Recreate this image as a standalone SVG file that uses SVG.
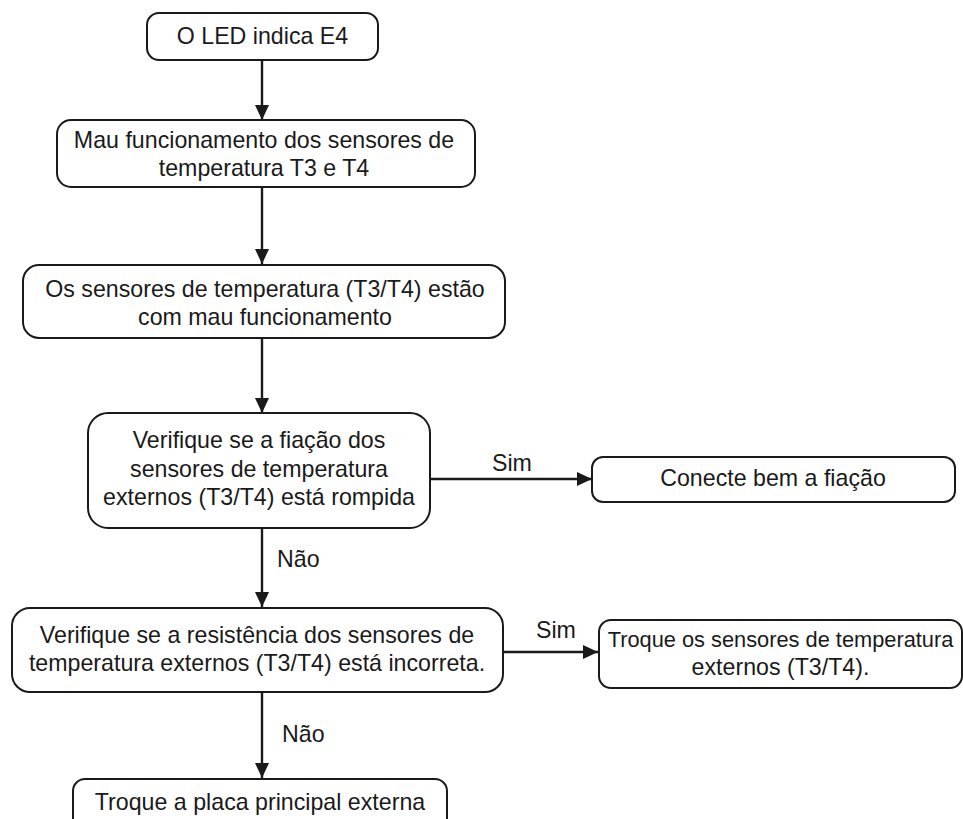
<svg xmlns="http://www.w3.org/2000/svg" width="963" height="819" viewBox="0 0 963 819">
<style>
.box{fill:#fff;stroke:#1a1a1a;stroke-width:2}
.t{font-family:"Liberation Sans",Arial,sans-serif;font-size:23.2px;fill:#1a1a1a;text-anchor:middle}
.s{font-size:21.8px}
.l{font-family:"Liberation Sans",Arial,sans-serif;font-size:23.2px;fill:#1a1a1a}
.c{stroke:#1a1a1a;stroke-width:2.4;fill:none;marker-end:url(#ah)}
</style>
<defs>
<marker id="ah" viewBox="0 0 15 14" refX="15" refY="7" markerWidth="15" markerHeight="14" markerUnits="userSpaceOnUse" orient="auto">
<path d="M0,0 L15,7 L0,14 Z" fill="#1a1a1a"/>
</marker>
</defs>
<rect width="963" height="819" fill="#fff"/>
<g id="connectors">
<line class="c" x1="262" y1="60" x2="262" y2="120"/>
<line class="c" x1="262" y1="187" x2="262" y2="264"/>
<line class="c" x1="262" y1="338" x2="262" y2="413"/>
<line class="c" x1="430" y1="479" x2="592" y2="479"/>
<text class="l" x="492" y="471">Sim</text>
<line class="c" x1="262" y1="528" x2="262" y2="607"/>
<text class="l" x="277" y="567">Não</text>
<line class="c" x1="503" y1="652" x2="598" y2="652"/>
<text class="l" x="536" y="638">Sim</text>
<line class="c" x1="262" y1="692" x2="262" y2="778"/>
<text class="l" x="282" y="742">Não</text>
</g>
<g id="n1">
<rect class="box" x="147" y="13" width="231" height="47" rx="12"/>
<text class="t" x="262.5" y="44">O LED indica E4</text>
</g>
<g id="n2">
<rect class="box" x="57" y="120" width="418" height="67" rx="14"/>
<text class="t" x="264" y="148">Mau funcionamento dos sensores de</text>
<text class="t" x="264" y="176">temperatura T3 e T4</text>
</g>
<g id="n3">
<rect class="box" x="23" y="265" width="482" height="73" rx="16"/>
<text class="t" x="265" y="297">Os sensores de temperatura (T3/T4) estão</text>
<text class="t" x="265" y="325">com mau funcionamento</text>
</g>
<g id="n4">
<rect class="box" x="88" y="413" width="342" height="115" rx="20"/>
<text class="t" x="259" y="448">Verifique se a fiação dos</text>
<text class="t" x="259" y="477">sensores de temperatura</text>
<text class="t" x="259" y="505">externos (T3/T4) está rompida</text>
</g>
<g id="n5">
<rect class="box" x="592" y="457" width="363" height="45" rx="11"/>
<text class="t" x="773" y="486">Conecte bem a fiação</text>
</g>
<g id="n6">
<rect class="box" x="12" y="608" width="491" height="84" rx="18"/>
<text class="t" x="257" y="643">Verifique se a resistência dos sensores de</text>
<text class="t" x="257" y="671">temperatura externos (T3/T4) está incorreta.</text>
</g>
<g id="n7">
<rect class="box" x="599" y="620" width="363" height="68" rx="12"/>
<text class="t s" x="780.5" y="647">Troque os sensores de temperatura</text>
<text class="t" x="780.5" y="675">externos (T3/T4).</text>
</g>
<g id="n8">
<rect class="box" x="73" y="779" width="374" height="60" rx="12"/>
<text class="t" x="260" y="810">Troque a placa principal externa</text>
</g>
</svg>
